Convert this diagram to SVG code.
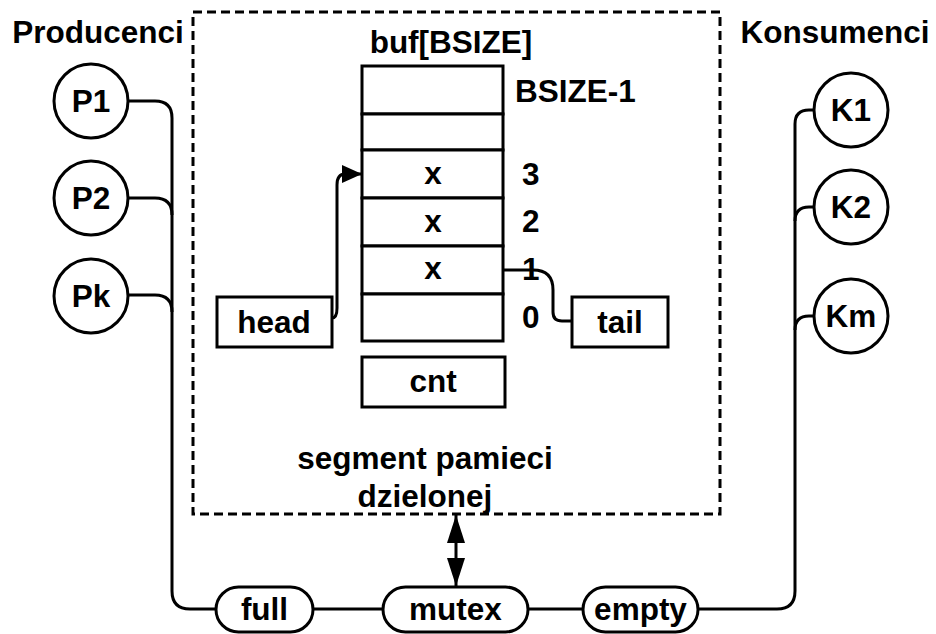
<svg xmlns="http://www.w3.org/2000/svg" width="936" height="634" viewBox="0 0 936 634">
<style>
.t{font-family:"Liberation Sans",Arial,Helvetica,sans-serif;font-weight:bold;font-size:31.5px;fill:#000;text-anchor:middle}
.s{text-anchor:start}
.box{fill:#fff;stroke:#000;stroke-width:3}
.ln{fill:none;stroke:#000;stroke-width:3}
.dash{fill:none;stroke:#000;stroke-width:3;stroke-dasharray:9 5}
</style>
<defs>
<marker id="ah" viewBox="0 0 20 18" refX="20" refY="9" markerWidth="20" markerHeight="18" markerUnits="userSpaceOnUse" orient="auto">
<path d="M0,0 L20,9 L0,18 Z" fill="#000"/>
</marker>
<marker id="ah2" viewBox="0 0 28 18" refX="28" refY="9" markerWidth="28" markerHeight="18" markerUnits="userSpaceOnUse" orient="auto-start-reverse">
<path d="M0,0 L28,9 L0,18 Z" fill="#000"/>
</marker>
</defs>
<rect width="936" height="634" fill="#fff"/>

<g id="segment">
<rect class="dash" x="193" y="12" width="527" height="502"/>
<text class="t" x="425" y="469">segment pamieci</text>
<text class="t" x="425" y="507">dzielonej</text>
</g>

<g id="title-producenci"><text class="t" x="98" y="43">Producenci</text></g>
<g id="title-konsumenci"><text class="t" x="835" y="43">Konsumenci</text></g>

<g id="connectors">
<path class="ln" d="M128,101 H155 Q172,101 172,118 V591 Q172,609 190,609 H216"/>
<path class="ln" d="M128,198 H155 Q172,198 172,215"/>
<path class="ln" d="M128,295 H155 Q172,295 172,312"/>
<path class="ln" d="M313,609 H383"/>
<path class="ln" d="M528,609 H583"/>
<path class="ln" d="M698,609 H777 Q795,609 795,591 V124 Q795,110 809,110 H814"/>
<path class="ln" d="M814,207 H809 Q795,207 795,221"/>
<path class="ln" d="M814,316 H809 Q795,316 795,330"/>
<path class="ln" d="M332,318 Q337,318 337,308 V185 Q337,174 345,174 H362" marker-end="url(#ah)"/>
<path class="ln" d="M503,270 H533 Q553,270 553,290 V312 Q553,321 562,321 H572"/>
<path class="ln" d="M456,515 V586" marker-start="url(#ah2)" marker-end="url(#ah2)"/>
</g>

<g id="buf">
<text class="t" x="451" y="53">buf[BSIZE]</text>
<rect class="box" x="362" y="66" width="141" height="48"/>
<rect class="box" x="362" y="114" width="141" height="36"/>
<rect class="box" x="362" y="150" width="141" height="48"/>
<rect class="box" x="362" y="198" width="141" height="48"/>
<rect class="box" x="362" y="246" width="141" height="48"/>
<rect class="box" x="362" y="294" width="141" height="47"/>
<text class="t" x="433" y="184">x</text>
<text class="t" x="433" y="232">x</text>
<text class="t" x="433" y="279">x</text>
<text class="t s" x="515" y="102">BSIZE-1</text>
<text class="t s" x="522" y="185">3</text>
<text class="t s" x="522" y="232">2</text>
<text class="t s" x="522" y="280">1</text>
<text class="t s" x="522" y="328">0</text>
</g>

<g id="cnt">
<rect class="box" x="362" y="357" width="143" height="50"/>
<text class="t" x="433" y="392">cnt</text>
</g>
<g id="head">
<rect class="box" x="217" y="297" width="115" height="50"/>
<text class="t" x="274" y="333">head</text>
</g>
<g id="tail">
<rect class="box" x="572" y="297" width="96" height="50"/>
<text class="t" x="620" y="333">tail</text>
</g>

<g id="P1"><circle class="box" cx="91" cy="101" r="37"/><text class="t" x="91" y="112">P1</text></g>
<g id="P2"><circle class="box" cx="91" cy="198" r="37"/><text class="t" x="91" y="209">P2</text></g>
<g id="Pk"><circle class="box" cx="91" cy="296" r="37"/><text class="t" x="91" y="307">Pk</text></g>
<g id="K1"><circle class="box" cx="851" cy="110" r="37"/><text class="t" x="851" y="121">K1</text></g>
<g id="K2"><circle class="box" cx="851" cy="207" r="37"/><text class="t" x="851" y="218">K2</text></g>
<g id="Km"><circle class="box" cx="851" cy="316" r="37"/><text class="t" x="851" y="327">Km</text></g>

<g id="full"><rect class="box" x="216" y="587" width="97" height="45" rx="22.5"/><text class="t" x="264.5" y="620">full</text></g>
<g id="mutex"><rect class="box" x="383" y="587" width="145" height="45" rx="22.5"/><text class="t" x="455.5" y="620">mutex</text></g>
<g id="empty"><rect class="box" x="583" y="587" width="115" height="45" rx="22.5"/><text class="t" x="640.5" y="620">empty</text></g>
</svg>
